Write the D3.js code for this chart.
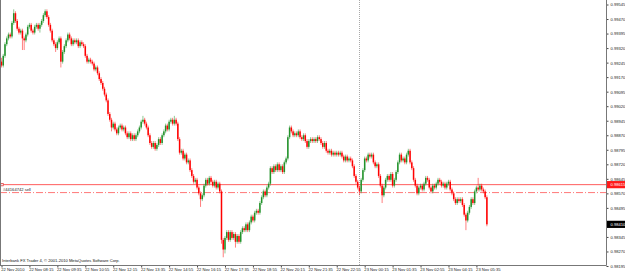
<!DOCTYPE html>
<html>
<head>
<meta charset="utf-8">
<script src="https://cdn.jsdelivr.net/npm/d3@7"></script>
<style>
  html, body { margin: 0; padding: 0; background: #fff; }
  svg { display: block; }
  text { font-family: "Liberation Sans", Arial, sans-serif; }
</style>
</head>
<body>
<svg id="chart" width="625" height="274"></svg>
<script>
// M5 bars, 22 Nov 2010 06:55 .. 23 Nov 2010 06:05
const startTime = "2010-11-22 06:55",
      endTime = "2010-11-23 06:05";

const opens = [
  0.9925,0.9923,0.9928,0.9934,0.9937,0.9939,0.9938,0.9945,0.9950,0.9946,0.9942,0.9940,0.9941,0.9937,0.9936,0.9939,0.9943,0.9944,0.9941,0.9940,
  0.9943,0.9944,0.9942,0.9944,0.9946,0.9949,0.9951,0.9948,0.9944,0.9941,0.9936,0.9934,0.9932,0.9935,0.9937,0.9925,0.9930,0.9933,0.9936,0.9939,
  0.9937,0.9934,0.9936,0.9935,0.9936,0.9933,0.9935,0.9934,0.9933,0.9928,0.9925,0.9926,0.9925,0.9924,0.9921,0.9922,0.9919,0.9916,0.9914,0.9911,
  0.9908,0.9905,0.9898,0.9895,0.9891,0.9893,0.9890,0.9888,0.9891,0.9892,0.9890,0.9891,0.9888,0.9886,0.9888,0.9885,0.9887,0.9885,0.9887,0.9889,
  0.9891,0.9894,0.9895,0.9893,0.9891,0.9887,0.9883,0.9881,0.9883,0.9880,0.9882,0.9885,0.9883,0.9887,0.9889,0.9892,0.9890,0.9894,0.9895,0.9893,
  0.9895,0.9893,0.9885,0.9878,0.9879,0.9875,0.9877,0.9873,0.9874,0.9869,0.9866,0.9863,0.9864,0.9860,0.9857,0.9854,0.9856,0.9861,0.9864,0.9862,
  0.9865,0.9863,0.9861,0.9863,0.9860,0.9862,0.9858,0.9833,0.9828,0.9834,0.9837,0.9833,0.9837,0.9834,0.9836,0.9832,0.9835,0.9832,0.9837,0.9839,
  0.9838,0.9841,0.9838,0.9842,0.9845,0.9843,0.9847,0.9848,0.9847,0.9852,0.9855,0.9858,0.9856,0.9860,0.9862,0.9870,0.9868,0.9871,0.9869,0.9872,
  0.9869,0.9871,0.9868,0.9873,0.9875,0.9886,0.9891,0.9889,0.9887,0.9888,0.9887,0.9889,0.9886,0.9885,0.9887,0.9884,0.9881,0.9884,0.9885,0.9884,
  0.9885,0.9884,0.9886,0.9885,0.9883,0.9881,0.9883,0.9879,0.9878,0.9879,0.9877,0.9878,0.9877,0.9878,0.9877,0.9878,0.9876,0.9874,0.9876,0.9874,
  0.9875,0.9874,0.9871,0.9866,0.9863,0.9860,0.9858,0.9864,0.9869,0.9875,0.9874,0.9877,0.9876,0.9877,0.9873,0.9871,0.9872,0.9866,0.9861,0.9856,
  0.9860,0.9864,0.9866,0.9864,0.9867,0.9861,0.9864,0.9868,0.9873,0.9877,0.9874,0.9875,0.9873,0.9877,0.9879,0.9873,0.9870,0.9864,0.9861,0.9857,
  0.9860,0.9861,0.9859,0.9862,0.9865,0.9864,0.9860,0.9858,0.9861,0.9860,0.9862,0.9864,0.9863,0.9861,0.9862,0.9860,0.9862,0.9863,0.9859,0.9857,
  0.9854,0.9852,0.9854,0.9853,0.9854,0.9851,0.9846,0.9843,0.9847,0.9850,0.9854,0.9852,0.9858,0.9860,0.9859,0.9861,0.9859,0.9858,0.9855
];

const highs = [
  0.9927,0.9929,0.9935,0.9938,0.9940,0.9940,0.9946,0.9952,0.9951,0.9947,0.9943,0.9942,0.9942,0.9938,0.9940,0.9944,0.9945,0.9945,0.9942,0.9944,
  0.9945,0.9945,0.9945,0.9947,0.9950,0.9952,0.9952,0.9949,0.9945,0.9942,0.9937,0.9935,0.9936,0.9938,0.9938,0.9931,0.9934,0.9937,0.9940,0.9940,
  0.9938,0.9937,0.9937,0.9937,0.9937,0.9936,0.9936,0.9935,0.9934,0.9929,0.9927,0.9927,0.9926,0.9925,0.9923,0.9923,0.9920,0.9917,0.9915,0.9912,
  0.9909,0.9906,0.9899,0.9896,0.9894,0.9894,0.9891,0.9892,0.9893,0.9893,0.9892,0.9892,0.9889,0.9889,0.9889,0.9888,0.9888,0.9888,0.9890,0.9892,
  0.9895,0.9897,0.9896,0.9894,0.9892,0.9888,0.9884,0.9884,0.9884,0.9883,0.9886,0.9886,0.9888,0.9890,0.9893,0.9893,0.9895,0.9896,0.9896,0.9897,
  0.9896,0.9894,0.9886,0.9880,0.9880,0.9878,0.9878,0.9875,0.9875,0.9870,0.9867,0.9865,0.9865,0.9861,0.9858,0.9857,0.9862,0.9865,0.9865,0.9866,
  0.9866,0.9864,0.9864,0.9864,0.9863,0.9863,0.9859,0.9834,0.9835,0.9838,0.9838,0.9838,0.9838,0.9837,0.9837,0.9836,0.9836,0.9838,0.9840,0.9840,
  0.9842,0.9842,0.9843,0.9846,0.9846,0.9848,0.9849,0.9849,0.9853,0.9856,0.9859,0.9859,0.9861,0.9863,0.9871,0.9871,0.9872,0.9872,0.9873,0.9873,
  0.9872,0.9872,0.9874,0.9876,0.9887,0.9892,0.9892,0.9890,0.9889,0.9889,0.9890,0.9890,0.9887,0.9888,0.9888,0.9885,0.9885,0.9886,0.9886,0.9886,
  0.9886,0.9887,0.9887,0.9886,0.9884,0.9884,0.9884,0.9880,0.9880,0.9880,0.9879,0.9879,0.9879,0.9879,0.9879,0.9879,0.9877,0.9877,0.9877,0.9876,
  0.9876,0.9875,0.9872,0.9867,0.9864,0.9861,0.9865,0.9870,0.9876,0.9876,0.9878,0.9878,0.9878,0.9878,0.9874,0.9873,0.9873,0.9867,0.9862,0.9861,
  0.9865,0.9867,0.9867,0.9868,0.9868,0.9865,0.9869,0.9874,0.9878,0.9878,0.9876,0.9876,0.9878,0.9880,0.9880,0.9874,0.9871,0.9865,0.9862,0.9861,
  0.9862,0.9862,0.9863,0.9866,0.9866,0.9865,0.9861,0.9862,0.9862,0.9863,0.9865,0.9865,0.9864,0.9863,0.9863,0.9863,0.9864,0.9864,0.9860,0.9858,
  0.9855,0.9855,0.9855,0.9855,0.9855,0.9852,0.9847,0.9848,0.9851,0.9855,0.9855,0.9859,0.9861,0.9865,0.9862,0.9862,0.9860,0.9859,0.9856
];

const lows = [
  0.9922,0.9922,0.9927,0.9933,0.9936,0.9937,0.9937,0.9944,0.9945,0.9941,0.9939,0.9939,0.9931,0.9931,0.9935,0.9938,0.9942,0.9940,0.9939,0.9939,
  0.9942,0.9941,0.9940,0.9943,0.9945,0.9948,0.9947,0.9943,0.9940,0.9935,0.9933,0.9930,0.9931,0.9934,0.9922,0.9924,0.9929,0.9932,0.9935,0.9936,
  0.9933,0.9933,0.9934,0.9934,0.9932,0.9932,0.9933,0.9932,0.9927,0.9924,0.9924,0.9924,0.9923,0.9920,0.9920,0.9918,0.9915,0.9913,0.9910,0.9907,
  0.9904,0.9897,0.9894,0.9889,0.9890,0.9889,0.9887,0.9887,0.9890,0.9889,0.9889,0.9887,0.9885,0.9885,0.9884,0.9884,0.9884,0.9884,0.9886,0.9888,
  0.9890,0.9893,0.9892,0.9890,0.9886,0.9882,0.9880,0.9880,0.9879,0.9879,0.9881,0.9882,0.9882,0.9886,0.9888,0.9889,0.9889,0.9893,0.9892,0.9892,
  0.9892,0.9884,0.9877,0.9877,0.9874,0.9874,0.9872,0.9872,0.9868,0.9865,0.9862,0.9862,0.9859,0.9856,0.9850,0.9853,0.9855,0.9860,0.9861,0.9861,
  0.9862,0.9860,0.9860,0.9859,0.9859,0.9857,0.9831,0.9824,0.9826,0.9833,0.9832,0.9832,0.9833,0.9833,0.9829,0.9831,0.9831,0.9831,0.9836,0.9837,
  0.9837,0.9837,0.9837,0.9841,0.9842,0.9842,0.9846,0.9846,0.9846,0.9851,0.9854,0.9855,0.9855,0.9859,0.9861,0.9867,0.9867,0.9868,0.9868,0.9868,
  0.9868,0.9867,0.9867,0.9872,0.9874,0.9885,0.9888,0.9886,0.9886,0.9886,0.9886,0.9885,0.9884,0.9884,0.9883,0.9880,0.9880,0.9883,0.9883,0.9883,
  0.9883,0.9883,0.9884,0.9882,0.9880,0.9880,0.9878,0.9877,0.9877,0.9876,0.9876,0.9876,0.9876,0.9876,0.9876,0.9875,0.9873,0.9873,0.9873,0.9873,
  0.9873,0.9870,0.9865,0.9862,0.9859,0.9856,0.9857,0.9863,0.9868,0.9873,0.9873,0.9875,0.9875,0.9872,0.9870,0.9870,0.9865,0.9860,0.9852,0.9855,
  0.9859,0.9863,0.9863,0.9863,0.9860,0.9860,0.9863,0.9867,0.9872,0.9873,0.9873,0.9872,0.9872,0.9876,0.9872,0.9869,0.9863,0.9860,0.9856,0.9856,
  0.9859,0.9858,0.9858,0.9861,0.9863,0.9859,0.9857,0.9857,0.9859,0.9859,0.9861,0.9862,0.9860,0.9860,0.9859,0.9859,0.9861,0.9858,0.9856,0.9853,
  0.9851,0.9851,0.9852,0.9852,0.9850,0.9845,0.9838,0.9842,0.9846,0.9849,0.9851,0.9851,0.9857,0.9858,0.9858,0.9858,0.9857,0.9854,0.9840
];

const closes = [
  0.9923,0.9928,0.9934,0.9937,0.9939,0.9938,0.9945,0.9950,0.9946,0.9942,0.9940,0.9941,0.9937,0.9936,0.9939,0.9943,0.9944,0.9941,0.9940,0.9943,
  0.9944,0.9942,0.9944,0.9946,0.9949,0.9951,0.9948,0.9944,0.9941,0.9936,0.9934,0.9932,0.9935,0.9937,0.9925,0.9930,0.9933,0.9936,0.9939,0.9937,
  0.9934,0.9936,0.9935,0.9936,0.9933,0.9935,0.9934,0.9933,0.9928,0.9925,0.9926,0.9925,0.9924,0.9921,0.9922,0.9919,0.9916,0.9914,0.9911,0.9908,
  0.9905,0.9898,0.9895,0.9891,0.9893,0.9890,0.9888,0.9891,0.9892,0.9890,0.9891,0.9888,0.9886,0.9888,0.9885,0.9887,0.9885,0.9887,0.9889,0.9891,
  0.9894,0.9895,0.9893,0.9891,0.9887,0.9883,0.9881,0.9883,0.9880,0.9882,0.9885,0.9883,0.9887,0.9889,0.9892,0.9890,0.9894,0.9895,0.9893,0.9895,
  0.9893,0.9885,0.9878,0.9879,0.9875,0.9877,0.9873,0.9874,0.9869,0.9866,0.9863,0.9864,0.9860,0.9857,0.9854,0.9856,0.9861,0.9864,0.9862,0.9865,
  0.9863,0.9861,0.9863,0.9860,0.9862,0.9858,0.9833,0.9828,0.9834,0.9837,0.9833,0.9837,0.9834,0.9836,0.9832,0.9835,0.9832,0.9837,0.9839,0.9838,
  0.9841,0.9838,0.9842,0.9845,0.9843,0.9847,0.9848,0.9847,0.9852,0.9855,0.9858,0.9856,0.9860,0.9862,0.9870,0.9868,0.9871,0.9869,0.9872,0.9869,
  0.9871,0.9868,0.9873,0.9875,0.9886,0.9891,0.9889,0.9887,0.9888,0.9887,0.9889,0.9886,0.9885,0.9887,0.9884,0.9881,0.9884,0.9885,0.9884,0.9885,
  0.9884,0.9886,0.9885,0.9883,0.9881,0.9883,0.9879,0.9878,0.9879,0.9877,0.9878,0.9877,0.9878,0.9877,0.9878,0.9876,0.9874,0.9876,0.9874,0.9875,
  0.9874,0.9871,0.9866,0.9863,0.9860,0.9858,0.9864,0.9869,0.9875,0.9874,0.9877,0.9876,0.9877,0.9873,0.9871,0.9872,0.9866,0.9861,0.9856,0.9860,
  0.9864,0.9866,0.9864,0.9867,0.9861,0.9864,0.9868,0.9873,0.9877,0.9874,0.9875,0.9873,0.9877,0.9879,0.9873,0.9870,0.9864,0.9861,0.9857,0.9860,
  0.9861,0.9859,0.9862,0.9865,0.9864,0.9860,0.9858,0.9861,0.9860,0.9862,0.9864,0.9863,0.9861,0.9862,0.9860,0.9862,0.9863,0.9859,0.9857,0.9854,
  0.9852,0.9854,0.9853,0.9854,0.9851,0.9846,0.9843,0.9847,0.9850,0.9854,0.9852,0.9858,0.9860,0.9859,0.9861,0.9859,0.9858,0.9855,0.9841
];

const priceTicks = [0.99545, 0.99470, 0.99395, 0.99320, 0.99245, 0.99170, 0.99095, 0.99020,
  0.98945, 0.98870, 0.98795, 0.98720, 0.98645, 0.98570, 0.98495, 0.98420, 0.98345, 0.98270, 0.98195];

const timeTicks = ["2010-11-22 06:55", "2010-11-22 08:15", "2010-11-22 09:35", "2010-11-22 10:55",
  "2010-11-22 12:15", "2010-11-22 13:35", "2010-11-22 14:55", "2010-11-22 16:15", "2010-11-22 17:35",
  "2010-11-22 18:55", "2010-11-22 20:15", "2010-11-22 21:35", "2010-11-22 22:55", "2010-11-23 00:15",
  "2010-11-23 01:35", "2010-11-23 02:55", "2010-11-23 04:15", "2010-11-23 05:35"];
const timeLabels = ["22 Nov 2010", "22 Nov 08:15", "22 Nov 09:35", "22 Nov 10:55", "22 Nov 12:15",
  "22 Nov 13:35", "22 Nov 14:55", "22 Nov 16:15", "22 Nov 17:35", "22 Nov 18:55", "22 Nov 20:15",
  "22 Nov 21:35", "22 Nov 22:55", "23 Nov 00:15", "23 Nov 01:35", "23 Nov 02:55", "23 Nov 04:15",
  "23 Nov 05:35"];

const separatorTime = "2010-11-23 00:00";
const hLineLevel = 0.98615;
const orderLevel = 0.98574,
      orderText = "#44164742 sell";
const bidPrice = 0.98410;
const copyright = "Interbank FX Trader 4, \u00a9 2001-2010 MetaQuotes Software Corp.";

let width = 625,
    height = 274,
    plot = {left: 0, right: 606, top: 0, bottom: 265},
    barStep = 1.746,
    firstBarX = 1.5;

const parseTime = d3.timeParse("%Y-%m-%d %H:%M");

function make_scales(barTimes) {
  let n = barTimes.length;
  return {
    x: d3.scaleTime()
         .domain([barTimes[0], barTimes[n - 1]])
         .range([firstBarX, firstBarX + (n - 1) * barStep]),
    y: d3.scaleLinear()
         .domain([0.98195, 0.99545])
         .range([266, 4.5])
  }
}

function draw_candles(svg, bars, scales) {
  let g = svg.append("g").attr("id", "candles");
  let colour = d => d.close >= d.open ? "#22922a" : "#ff0000";

  g.selectAll("line.wick")
    .data(bars).enter()
    .append("line")
    .attr("class", "wick")
    .attr("x1", d => scales.x(d.time))
    .attr("x2", d => scales.x(d.time))
    .attr("y1", d => scales.y(d.high))
    .attr("y2", d => scales.y(d.low))
    .attr("stroke", colour)
    .attr("stroke-opacity", 0.5)
    .attr("stroke-width", 1);

  g.selectAll("rect.body")
    .data(bars).enter()
    .append("rect")
    .attr("class", "body")
    .attr("x", d => scales.x(d.time) - 0.75)
    .attr("width", 1.5)
    .attr("y", d => scales.y(Math.max(d.open, d.close)))
    .attr("height", d => Math.max(0.9, Math.abs(scales.y(d.open) - scales.y(d.close))))
    .attr("fill", colour);
}

function add_axes(svg, scales) {
  let y_axis = d3.axisRight(scales.y)
        .tickValues(priceTicks)
        .tickFormat(d3.format(".5f"))
        .tickSize(2),
      x_axis = d3.axisBottom(scales.x)
        .tickValues(timeTicks.map(parseTime))
        .tickFormat((d, i) => timeLabels[i])
        .tickSize(2);

  let gy = svg.append("g")
    .attr("id", "y_axis")
    .attr("transform", `translate(${plot.right + 0.5},0)`)
    .call(y_axis);
  gy.select(".domain").remove();
  gy.selectAll(".tick line").attr("stroke", "#444");
  gy.selectAll(".tick text")
    .attr("x", 4)
    .attr("dy", "0.35em")
    .attr("fill", "#222")
    .style("font-size", "4.1px");

  let gx = svg.append("g")
    .attr("id", "x_axis")
    .attr("transform", `translate(0,${plot.bottom + 0.5})`)
    .call(x_axis);
  gx.select(".domain").remove();
  gx.selectAll(".tick line").attr("stroke", "#444");
  gx.selectAll(".tick text")
    .attr("text-anchor", "start")
    .attr("x", -0.8)
    .attr("y", 2.6)
    .attr("dy", "0.75em")
    .attr("fill", "#222")
    .style("font-size", "4.1px");
}

function add_frame(svg) {
  let g = svg.append("g").attr("id", "frame").attr("stroke", "#777").attr("stroke-width", 1);
  g.append("line").attr("x1", 0.5).attr("x2", 0.5).attr("y1", 0).attr("y2", plot.bottom + 0.5);
  g.append("line").attr("x1", plot.right + 0.5).attr("x2", plot.right + 0.5).attr("y1", 0).attr("y2", plot.bottom + 0.5);
  g.append("line").attr("x1", 0).attr("x2", plot.right + 0.5).attr("y1", plot.bottom + 0.5).attr("y2", plot.bottom + 0.5);
}

function add_levels(svg, scales) {
  let sepX = Math.round(scales.x(parseTime(separatorTime))) + 0.5;
  svg.append("line")
    .attr("x1", sepX).attr("x2", sepX)
    .attr("y1", 0).attr("y2", plot.bottom)
    .attr("stroke", "#a8a8a8")
    .attr("stroke-dasharray", "1,1");

  let hy = scales.y(hLineLevel);
  svg.append("line")
    .attr("x1", 0).attr("x2", plot.right)
    .attr("y1", hy).attr("y2", hy)
    .attr("stroke", "#ff5c5c")
    .attr("stroke-width", 1);
  svg.append("rect")
    .attr("x", 0.8).attr("y", hy - 1.2)
    .attr("width", 2.4).attr("height", 2.4)
    .attr("fill", "#fff")
    .attr("stroke", "#e03030")
    .attr("stroke-width", 0.7);

  let oy = scales.y(orderLevel);
  svg.append("line")
    .attr("x1", 0).attr("x2", plot.right)
    .attr("y1", oy).attr("y2", oy)
    .attr("stroke", "#ff6a6a")
    .attr("stroke-width", 0.9)
    .attr("stroke-dasharray", "7,2,1,2");
  svg.append("text")
    .attr("x", 3).attr("y", oy - 1.6)
    .attr("fill", "#222")
    .style("font-size", "4.1px")
    .text(orderText);

  // price markers on the axis
  [[hLineLevel, "#ff1a1a"], [bidPrice, "#000"]].forEach(([p, c]) => {
    let py = scales.y(p);
    svg.append("rect")
      .attr("x", plot.right + 1).attr("y", py - 3.6)
      .attr("width", width - plot.right - 1).attr("height", 7.2)
      .attr("fill", c);
    svg.append("text")
      .attr("x", plot.right + 4.5).attr("y", py)
      .attr("dy", "0.35em")
      .attr("fill", "#fff")
      .style("font-size", "4.1px")
      .text(d3.format(".5f")(p));
  });

  svg.append("text")
    .attr("x", 2).attr("y", plot.bottom - 3.5)
    .attr("fill", "#111")
    .style("font-size", "4.1px")
    .text(copyright);
}

function visualize() {
  let t0 = parseTime(startTime),
      t1 = parseTime(endTime),
      barTimes = d3.timeMinute.every(5).range(t0, d3.timeMinute.offset(t1, 1));
  let n = Math.min(barTimes.length, closes.length);
  let bars = d3.range(n).map(i => ({
    time: barTimes[i], open: opens[i], high: highs[i], low: lows[i], close: closes[i]
  }));
  let scales = make_scales(barTimes.slice(0, n));
  let svg = d3.select("#chart");

  svg.append("rect").attr("width", width).attr("height", height).attr("fill", "#fff");
  add_axes(svg, scales);
  add_levels(svg, scales);
  draw_candles(svg, bars, scales);
  add_frame(svg);
}

visualize();
</script>
</body>
</html>
